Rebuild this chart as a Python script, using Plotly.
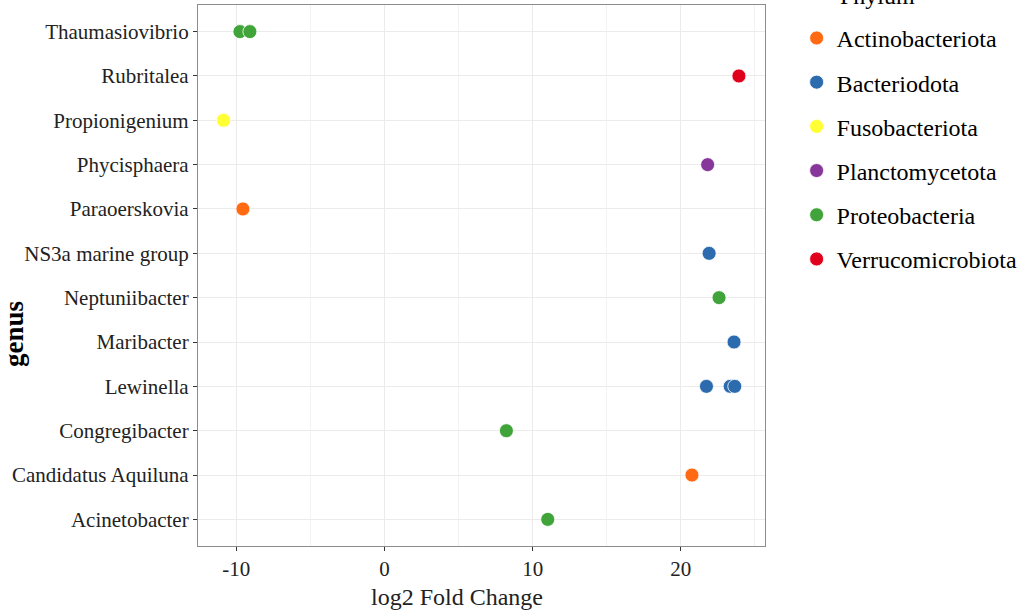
import plotly.graph_objects as go

genera = ["Acinetobacter", "Candidatus Aquiluna", "Congregibacter", "Lewinella",
          "Maribacter", "Neptuniibacter", "NS3a marine group", "Paraoerskovia",
          "Phycisphaera", "Propionigenium", "Rubritalea", "Thaumasiovibrio"]

phyla = ["Actinobacteriota", "Bacteriodota", "Fusobacteriota",
         "Planctomycetota", "Proteobacteria", "Verrucomicrobiota"]
colors = ["#FF6A13", "#2C6BAE", "#FFFF33", "#87379A", "#40A43A", "#E0001B"]

# points: (genus, log2FC) per phylum
act_genus = ["Paraoerskovia", "Candidatus Aquiluna"]
act_lfc = [-9.55, 20.75]
bac_genus = ["NS3a marine group", "Maribacter", "Lewinella", "Lewinella", "Lewinella"]
bac_lfc = [21.91, 23.59, 21.73, 23.33, 23.64]
fus_genus = ["Propionigenium"]
fus_lfc = [-10.86]
pla_genus = ["Phycisphaera"]
pla_lfc = [21.81]
pro_genus = ["Thaumasiovibrio", "Thaumasiovibrio", "Neptuniibacter", "Congregibacter", "Acinetobacter"]
pro_lfc = [-9.75, -9.08, 22.58, 8.23, 11.02]
ver_genus = ["Rubritalea"]
ver_lfc = [23.92]

series = [
    (act_genus, act_lfc), (bac_genus, bac_lfc), (fus_genus, fus_lfc),
    (pla_genus, pla_lfc), (pro_genus, pro_lfc), (ver_genus, ver_lfc),
]

x_ticks = [-10, 0, 10, 20]

FONT = "Liberation Serif"

fig = go.Figure()
for name, col, (g, v) in zip(phyla, colors, series):
    fig.add_trace(go.Scatter(
        x=v, y=g, mode="markers", name=name, legendgroup=name,
        marker=dict(color=col, size=14, line=dict(width=0.8, color="white")),
    ))

fig.update_layout(
    width=1020, height=610,
    margin=dict(l=198, r=255, t=5, b=64, autoexpand=False),
    paper_bgcolor="white", plot_bgcolor="white",
    font=dict(family=FONT, color="black", size=21),
    showlegend=True,
    legend=dict(
        xref="container", yref="container",
        x=0.781, xanchor="left", y=0.974, yanchor="top",
        font=dict(family=FONT, size=24, color="black"),
        tracegroupgap=10, itemsizing="trace",
        bgcolor="rgba(0,0,0,0)",
    ),
    annotations=[
        dict(text="Phylum", xref="paper", yref="paper", x=1.1287, y=1.0166,
             xanchor="left", yanchor="middle", showarrow=False,
             font=dict(family=FONT, size=24, color="black")),
        dict(text="log2 Fold Change", xref="paper", yref="paper", x=0.457, y=-0.094,
             xanchor="center", yanchor="middle", showarrow=False,
             font=dict(family=FONT, size=24, color="#222222")),
        dict(text="<b>genus</b>", xref="paper", yref="paper", x=-0.3245, y=0.392,
             xanchor="center", yanchor="middle", showarrow=False, textangle=-90,
             font=dict(family=FONT, size=27, color="black")),
    ],
)

fig.update_xaxes(
    range=[-12.58, 25.68], tickvals=x_ticks, ticktext=[str(t) for t in x_ticks],
    showgrid=True, gridcolor="#EBEBEB", gridwidth=1.2,
    minor=dict(tickvals=[-5, 5, 15, 25], showgrid=True, gridcolor="#F2F2F2", gridwidth=0.8),
    showline=True, linecolor="#8C8C8C", linewidth=1.2, mirror=True,
    ticks="outside", ticklen=4, tickcolor="#333333",
    tickfont=dict(family=FONT, size=21, color="#222222"),
    zeroline=False, automargin=False,
)
fig.update_yaxes(
    categoryorder="array", categoryarray=genera, range=[-0.6, 11.6],
    showgrid=True, gridcolor="#EBEBEB", gridwidth=1.2,
    showline=True, linecolor="#8C8C8C", linewidth=1.2, mirror=True,
    ticks="outside", ticklen=4, tickcolor="#333333",
    tickfont=dict(family=FONT, size=21, color="#222222"),
    zeroline=False, automargin=False,
)

fig.write_html("out.html", config={"displayModeBar": False},
               post_script="document.body.style.margin='0';")
